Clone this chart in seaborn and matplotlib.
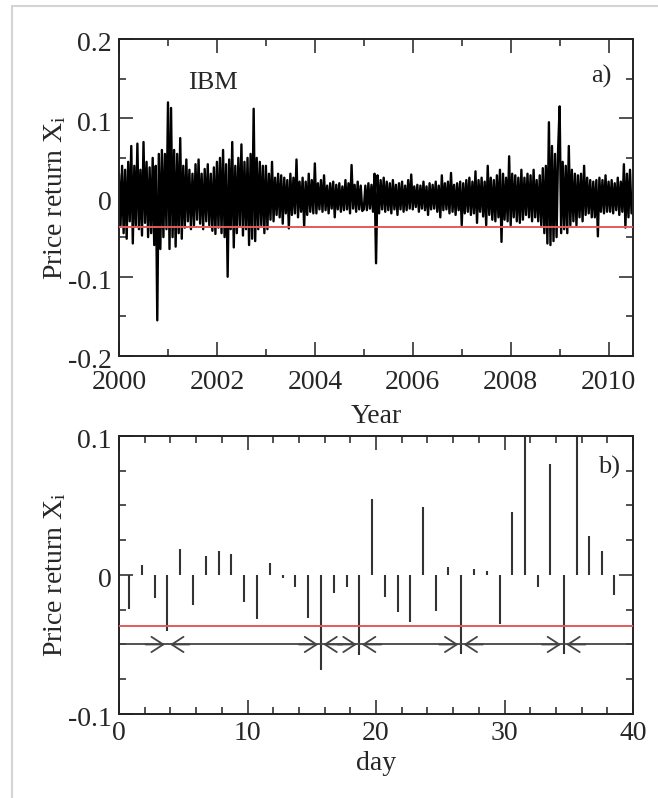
import numpy as np
import pandas as pd
import matplotlib
matplotlib.use("Agg")
import matplotlib.pyplot as plt
import matplotlib.transforms as mtransforms
import seaborn as sns
from matplotlib.ticker import MultipleLocator
from matplotlib.patches import Rectangle

# ---------------- data: panel a) IBM daily price returns (read from the picture) -------------
years = [2000, 2001, 2002, 2003, 2004, 2005, 2006, 2007, 2008, 2009, 2010]
r2000 = [0.030, -0.035, 0.040, -0.045, 0.035, -0.052, 0.045, -0.030, 0.065, -0.058, 0.040, -0.035,
         0.068, -0.040, 0.035, -0.048, 0.070, -0.032, 0.045, -0.050, 0.038, -0.045, 0.050, -0.060,
         0.040, -0.155, 0.055, -0.065, 0.060, -0.050, 0.055, -0.040]
r2001 = [0.120, -0.065, 0.113, -0.050, 0.060, -0.062, 0.055, -0.045, 0.075, -0.052, 0.040, -0.038,
         0.048, -0.030, 0.035, -0.040, 0.030, -0.035, 0.042, -0.028, 0.048, -0.033, 0.030, -0.040,
         0.036, -0.030, 0.042, -0.035, 0.030, -0.042, 0.038, -0.046]
r2002 = [0.045, -0.038, 0.050, -0.045, 0.060, -0.050, 0.042, -0.100, 0.048, -0.040, 0.070, -0.063,
         0.040, -0.045, 0.050, -0.035, 0.067, -0.048, 0.045, -0.040, 0.050, -0.060, 0.055, -0.052,
         0.112, -0.055, 0.050, -0.040, 0.045, -0.035, 0.040, -0.045]
r2003 = [0.040, -0.040, 0.030, -0.028, 0.045, -0.030, 0.025, -0.022, 0.030, -0.025, 0.028, -0.033,
         0.025, -0.020, 0.022, -0.039, 0.030, -0.022, 0.025, -0.020, 0.048, -0.025, 0.020, -0.018,
         0.025, -0.037, 0.020, -0.022, 0.030, -0.018, 0.022, -0.020]
r2004 = [0.043, -0.020, 0.018, -0.015, 0.022, -0.018, 0.028, -0.016, 0.015, -0.020, 0.018, -0.014,
         0.020, -0.025, 0.016, -0.015, 0.018, -0.018, 0.014, -0.016, 0.022, -0.015, 0.018, -0.020,
         0.041, -0.014, 0.016, -0.018, 0.020, -0.015, 0.015, -0.017]
r2005 = [-0.015, 0.015, -0.016, 0.018, -0.014, 0.016, -0.018, 0.030, -0.083, 0.028, -0.020, 0.022,
         -0.015, 0.025, -0.018, 0.020, -0.016, 0.018, -0.020, 0.022, -0.015, 0.016, -0.022, 0.018,
         -0.015, 0.020, -0.018, 0.015, -0.016, 0.022, -0.014, 0.029]
r2006 = [-0.015, 0.014, -0.012, 0.016, -0.018, 0.015, -0.014, 0.020, -0.016, 0.014, -0.022, 0.018,
         -0.015, 0.016, -0.014, 0.020, -0.018, 0.015, -0.025, 0.028, -0.016, 0.018, -0.015, 0.020,
         -0.020, 0.031, -0.018, 0.016, -0.022, 0.018, -0.016, 0.020]
r2007 = [-0.035, 0.018, -0.020, 0.022, -0.018, 0.025, -0.022, 0.020, -0.020, 0.033, -0.032, 0.022,
         -0.018, 0.025, -0.024, 0.020, -0.035, 0.040, -0.022, 0.025, -0.028, 0.022, -0.030, 0.028,
         -0.025, 0.035, -0.056, 0.030, -0.028, 0.025, -0.030, 0.052]
r2008 = [-0.035, 0.030, -0.025, 0.028, -0.030, 0.025, -0.032, 0.035, -0.028, 0.025, -0.022, 0.030,
         -0.025, 0.028, -0.030, 0.035, -0.025, 0.022, -0.030, 0.028, -0.035, 0.037, -0.045, 0.040,
         -0.058, 0.095, -0.060, 0.065, -0.055, 0.055, -0.050, 0.060]
r2009 = [0.115, -0.045, 0.045, -0.040, 0.040, -0.045, 0.065, -0.035, 0.035, -0.030, 0.030, -0.035,
         0.028, -0.025, 0.030, -0.030, 0.040, -0.022, 0.025, -0.020, 0.022, -0.025, 0.020, -0.025,
         0.022, -0.049, 0.025, -0.018, 0.022, -0.020, 0.028, -0.018]
r2010 = [0.020, -0.018, 0.022, -0.020, 0.018, -0.016, 0.025, -0.022, 0.020, -0.018, 0.042, -0.038,
         0.030, -0.025, 0.035, -0.020]
returns_by_year = [r2000, r2001, r2002, r2003, r2004, r2005, r2006, r2007, r2008, r2009, r2010]
samples_per_year = 32
threshold = -0.037

# ---------------- data: panel b) 40 days of returns -----------------------------------------
day = [0.78, 1.80, 2.78, 3.77, 4.78, 5.77, 6.78, 7.77, 8.75, 9.74, 10.73, 11.74, 12.73,
       13.70, 14.70, 15.70, 16.73, 17.72, 18.70, 19.66, 20.70, 21.69, 22.65, 23.66, 24.67,
       25.63, 26.61, 27.63, 28.60, 29.65, 30.60, 31.60, 32.60, 33.57, 34.60, 35.60, 36.58,
       37.60, 38.55]
day_return = [-0.0247, 0.0072, -0.0163, -0.0403, 0.0187, -0.0216, 0.0137, 0.0173, 0.0149,
              -0.0192, -0.0319, 0.0084, -0.0024, -0.0084, -0.0312, -0.0683, -0.0132, -0.0084,
              -0.0576, 0.0544, -0.0160, -0.0269, -0.0340, 0.0487, -0.0257, 0.0060, -0.0568,
              0.0040, 0.0030, -0.0353, 0.0450, 0.1200, -0.0084, 0.0796, -0.0570, 0.1200,
              0.0280, 0.0173, -0.0144]
arrow_level = -0.05

# ---------------- style ---------------------------------------------------------------------
sns.set_style("ticks")
plt.rcParams["font.family"] = ["Liberation Serif", "DejaVu Serif"]
plt.rcParams["mathtext.fontset"] = "custom"
plt.rcParams["mathtext.rm"] = "Liberation Serif"
plt.rcParams["mathtext.it"] = "Liberation Serif:italic"

TICK_FS = 20
LABEL_FS = 20
RED = "#e35a5a"
ARROW = "#444444"

fig = plt.figure(figsize=(6.58, 7.98), dpi=100)
fig.patches.append(Rectangle((0.018, -0.05), 1.2, 0.9925 + 0.05, transform=fig.transFigure,
                             fill=False, edgecolor="#d4d4d4", linewidth=1.5, clip_on=False))

ax1 = fig.add_axes([0.1809, 0.5539, 0.7812, 0.3972])
ax2 = fig.add_axes([0.1809, 0.1053, 0.7812, 0.3484])

# ----- panel a
t = np.concatenate([y + np.arange(len(r)) / samples_per_year for y, r in zip(years, returns_by_year)])
ret = np.concatenate([np.asarray(r) for r in returns_by_year])
df = pd.DataFrame({"t": t, "ret": ret})
sns.lineplot(data=df, x="t", y="ret", ax=ax1, color="black", linewidth=1.7,
             estimator=None, sort=False)
ax1.axhline(threshold, color=RED, linewidth=1.4, zorder=3)
ax1.set_xlim(2000, 2010.5)
ax1.set_ylim(-0.2, 0.2)
ax1.xaxis.set_major_locator(MultipleLocator(2))
ax1.xaxis.set_minor_locator(MultipleLocator(1))
ax1.yaxis.set_minor_locator(MultipleLocator(0.05))
ax1.set_yticks([-0.2, -0.1, 0, 0.1, 0.2])
ax1.set_yticklabels(["-0.2", "-0.1", "0", "0.1", "0.2"])
ax1.set_xlabel("Year", fontsize=LABEL_FS)
ax1.set_ylabel(r"Price return X$_\mathrm{i}$", fontsize=LABEL_FS)
ax1.text(2001.92, 0.145, "IBM", ha="center", va="center", fontsize=19)
ax1.text(2009.86, 0.153, "a)", ha="center", va="center", fontsize=19)

# ----- panel b
ax2.vlines(day, 0, day_return, color="#333333", linewidth=1.5)
ax2.axhline(threshold, color=RED, linewidth=1.4, zorder=3)
ax2.hlines(arrow_level, 0, 40, color=ARROW, linewidth=1.3)
exceed = [d for d, r in zip(day, day_return) if r < threshold]
gap = 0.2
head = "->,head_length=0.85,head_width=0.55"
for e in exceed:
    ax2.annotate("", xy=(e - gap, arrow_level), xytext=(e - gap - 1.5, arrow_level),
                 arrowprops=dict(arrowstyle=head, color=ARROW, lw=1.3,
                                 shrinkA=0, shrinkB=0, mutation_scale=10))
    ax2.annotate("", xy=(e + gap, arrow_level), xytext=(e + gap + 1.5, arrow_level),
                 arrowprops=dict(arrowstyle=head, color=ARROW, lw=1.3,
                                 shrinkA=0, shrinkB=0, mutation_scale=10))
ax2.set_xlim(0, 40)
ax2.set_ylim(-0.1, 0.1)
ax2.xaxis.set_major_locator(MultipleLocator(10))
ax2.xaxis.set_minor_locator(MultipleLocator(2))
ax2.yaxis.set_minor_locator(MultipleLocator(0.025))
ax2.set_yticks([-0.1, 0, 0.1])
ax2.set_yticklabels(["-0.1", "0", "0.1"])
ax2.set_xlabel("day", fontsize=LABEL_FS)
ax2.set_ylabel(r"Price return X$_\mathrm{i}$", fontsize=LABEL_FS)
ax2.text(38.1, 0.077, "b)", ha="center", va="center", fontsize=19)

down = mtransforms.ScaledTranslation(0, -2 / 72, fig.dpi_scale_trans)
for ax in (ax1, ax2):
    for s in ax.spines.values():
        s.set_linewidth(1.4)
        s.set_color("#222222")
    ax.tick_params(which="both", direction="in", top=True, right=True,
                   labelsize=TICK_FS, color="#222222")
    ax.tick_params(axis="y", pad=5)
    ax.tick_params(which="major", length=10, width=1.1)
    ax.tick_params(which="minor", length=5, width=1.1)
    ax.yaxis.set_label_coords(-0.10, 0.5)
    for lab in ax.get_yticklabels():
        lab.set_transform(lab.get_transform() + down)

ax1.tick_params(axis="x", pad=10)
ax2.tick_params(axis="x", pad=5)
ax1.xaxis.set_label_coords(0.5, -0.152)
ax2.xaxis.set_label_coords(0.5, -0.132)

fig.savefig("out.png", dpi=100)
